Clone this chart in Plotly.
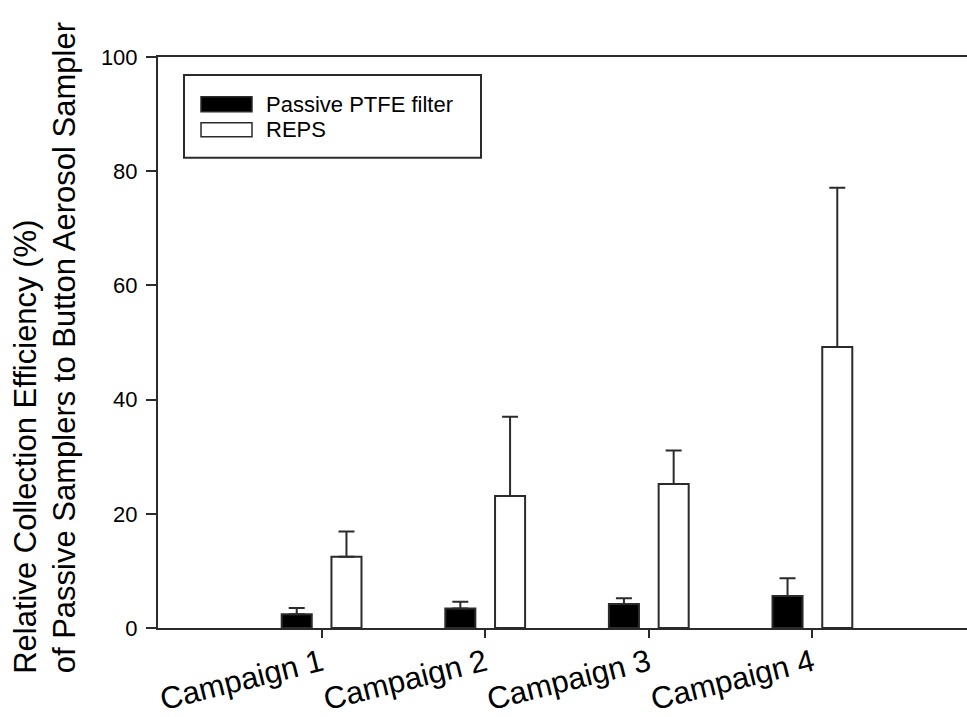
import plotly.graph_objects as go

categories = ["Campaign 1", "Campaign 2", "Campaign 3", "Campaign 4"]
ptfe_values = [2.4, 3.4, 4.2, 5.6]
ptfe_errors = [1.1, 1.2, 1.0, 3.1]
reps_values = [12.5, 23.1, 25.2, 49.2]
reps_errors = [4.4, 13.9, 5.9, 27.9]
series_names = ["Passive PTFE filter", "REPS"]
y_ticks = [0, 20, 40, 60, 80, 100]

W, H = 967, 717
L, R, T, B = 158, 0, 57, 87
PW, PH = W - L - R, H - T - B


def px(x):
    return (x - L) / PW


def py(y):
    return (H - B - y) / PH


FONT = "Liberation Sans, Arial, sans-serif"
EDGE = "#2b2b2b"

fig = go.Figure()
fig.add_trace(go.Bar(
    x=categories, y=ptfe_values, name=series_names[0],
    marker=dict(color="black", line=dict(color=EDGE, width=2)),
    error_y=dict(type="data", array=ptfe_errors, arrayminus=[0] * 4, symmetric=False,
                 color=EDGE, thickness=2, width=8),
    showlegend=False,
))
fig.add_trace(go.Bar(
    x=categories, y=reps_values, name=series_names[1],
    marker=dict(color="white", line=dict(color=EDGE, width=2)),
    error_y=dict(type="data", array=reps_errors, arrayminus=[0] * 4, symmetric=False,
                 color=EDGE, thickness=2, width=8),
    showlegend=False,
))

shapes = [
    # legend box
    dict(type="rect", xref="paper", yref="paper", x0=px(184), x1=px(481), y0=py(75), y1=py(158),
         line=dict(color=EDGE, width=2), fillcolor="rgba(0,0,0,0)"),
    dict(type="rect", xref="paper", yref="paper", x0=px(201), x1=px(252), y0=py(97), y1=py(112),
         line=dict(color=EDGE, width=1.5), fillcolor="black"),
    dict(type="rect", xref="paper", yref="paper", x0=px(201), x1=px(252), y0=py(123), y1=py(137),
         line=dict(color=EDGE, width=1.5), fillcolor="white"),
]

annotations = [
    dict(text=series_names[0], xref="paper", yref="paper", x=px(264), y=py(104.5),
         xanchor="left", yanchor="middle", showarrow=False, font=dict(size=22, color="black", family=FONT)),
    dict(text=series_names[1], xref="paper", yref="paper", x=px(264), y=py(130),
         xanchor="left", yanchor="middle", showarrow=False, font=dict(size=22, color="black", family=FONT)),
    dict(text="Relative Collection Efficiency (%)", xref="paper", yref="paper", x=px(26), y=py(678),
         xanchor="center", yanchor="bottom", textangle=-90, showarrow=False,
         font=dict(size=31, color="black", family=FONT)),
    dict(text="of Passive Samplers to Button Aerosol Sampler", xref="paper", yref="paper", x=px(64), y=py(678),
         xanchor="center", yanchor="bottom", textangle=-90, showarrow=False,
         font=dict(size=31, color="black", family=FONT)),
]

fig.update_layout(
    width=W, height=H,
    margin=dict(l=L, r=R, t=T, b=B, pad=0),
    paper_bgcolor="white", plot_bgcolor="white",
    barmode="group", bargap=0.392, bargroupgap=0.396,
    font=dict(family=FONT, color="black"),
    shapes=shapes, annotations=annotations,
    xaxis=dict(
        type="category", range=[-1.0, 3.945],
        showline=True, linecolor=EDGE, linewidth=2, mirror=True,
        ticks="outside", ticklen=8, tickwidth=1.5, tickcolor=EDGE,
        tickangle=-14, tickfont=dict(size=31, family=FONT, color="black"),
        ticklabelstandoff=-5,
        showgrid=False, zeroline=False,
    ),
    yaxis=dict(
        range=[0, 100], tickvals=y_ticks,
        showline=True, linecolor=EDGE, linewidth=2,
        ticks="outside", ticklen=10, tickwidth=1.5, tickcolor=EDGE,
        tickfont=dict(size=22, family=FONT, color="black"),
        ticklabelstandoff=4,
        showgrid=False, zeroline=False,
    ),
)

fig.write_html("out.html", config={"displayModeBar": False},
               post_script="document.body.style.margin='0px';")
